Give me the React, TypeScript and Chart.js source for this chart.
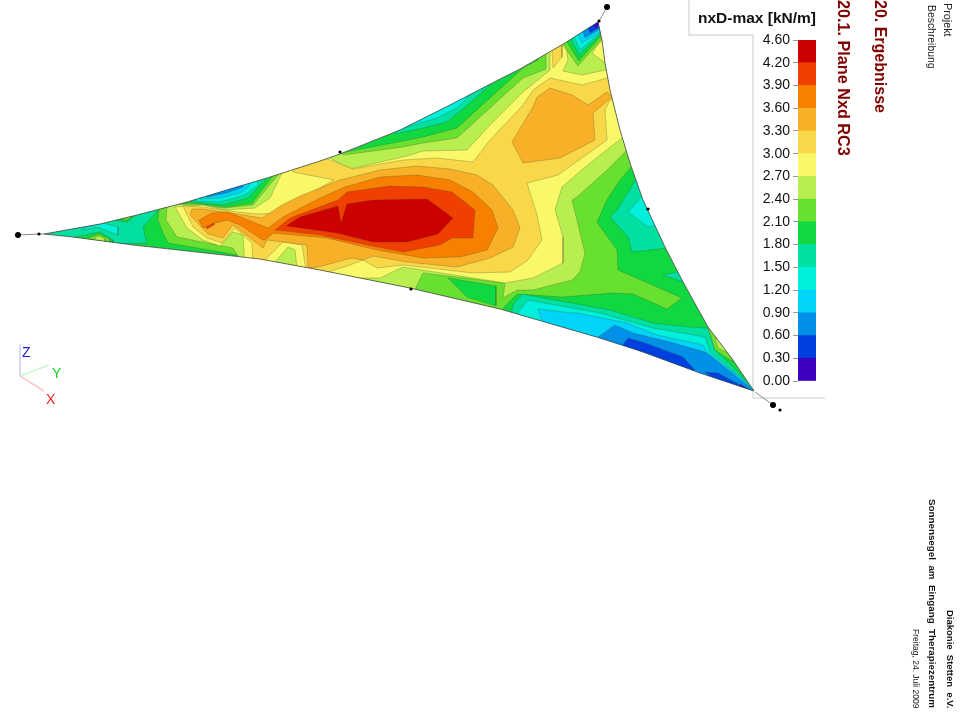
import React, { useEffect, useRef } from "react";
import { Chart } from "chart.js";
import { registerables } from "chart.js";

type P = number[];

const bandColors = ["#3c00c0", "#0040e0", "#0090e8", "#00d4f8", "#00f0dc", "#00e0a0", "#10d840", "#68e030", "#b8ee50", "#f8f868", "#f8d848", "#f8b028", "#f88000", "#f04000", "#cc0000"];
const legendLabels = ["0.00", "0.30", "0.60", "0.90", "1.20", "1.50", "1.80", "2.10", "2.40", "2.70", "3.00", "3.30", "3.60", "3.90", "4.20", "4.60"];

const upperEdge: P[] = [[44, 234], [100, 224], [133, 216], [187, 202], [230, 189], [267, 178], [320, 161], [340, 154], [400, 130], [450, 105], [500, 79], [520, 69], [565, 43], [598, 22]];
const rightEdge: P[] = [[602, 40], [605, 63], [610, 90], [620, 130], [630, 163], [643, 200], [665, 247], [682, 280], [708, 327], [733, 360], [754, 391]];
const lowerEdge: P[] = [[700, 373], [643, 352], [600, 338], [500, 309], [410, 288], [320, 270], [260, 259], [233, 256], [133, 245], [73, 237], [44, 234]];

const p21: P[] = [[168, 206], [190, 203], [227, 207], [252, 203], [272, 177], [273, 165], [335, 145], [340, 153], [393, 143], [423, 137], [457, 128], [490, 98], [523, 68], [538, 60], [545, 40], [600, 10], [640, 100], [645, 160], [633, 165], [620, 180], [607, 200], [597, 222], [617, 250], [618, 270], [682, 298], [667, 309], [633, 294], [613, 293], [563, 297], [517, 294], [504, 307], [500, 325], [420, 300], [240, 270], [238, 255], [168, 243], [163, 233], [158, 220], [159, 209]];
const greenPit: P[] = [[448, 278], [496, 286], [496, 306], [467, 297]];
const p24: P[] = [[167, 207], [173, 204], [195, 205], [225, 208], [253, 205], [278, 175], [279, 160], [338, 145], [343, 155], [403, 147], [423, 143], [457, 138], [490, 108], [523, 78], [546, 69], [546, 45], [600, 10], [640, 100], [635, 145], [627, 150], [607, 170], [577, 197], [572, 200], [585, 253], [580, 272], [572, 280], [533, 290], [517, 290], [503, 298], [505, 283], [423, 273], [417, 285], [412, 300], [240, 270], [238, 256], [233, 248], [217, 245], [177, 237], [166, 220]];
const p27: P[] = [[175, 207], [203, 205], [225, 210], [255, 208], [270, 198], [280, 177], [283, 170], [282, 160], [328, 148], [330, 158], [350, 169], [407, 156], [423, 151], [467, 150], [490, 125], [523, 92], [550, 70], [550, 50], [565, 40], [568, 60], [563, 71], [582, 75], [605, 70], [625, 80], [630, 130], [622, 138], [590, 163], [562, 187], [555, 210], [563, 237], [563, 263], [533, 278], [505, 283], [403, 267], [380, 278], [345, 278], [345, 290], [245, 270], [243, 235], [233, 232], [220, 246], [203, 240], [187, 228]];
const p30: P[] = [[183, 206], [203, 207], [237, 212], [258, 214], [275, 213], [334, 180], [293, 172], [293, 160], [325, 148], [325, 158], [353, 169], [403, 160], [437, 158], [473, 162], [490, 140], [523, 105], [533, 90], [550, 78], [582, 85], [607, 78], [620, 85], [625, 100], [610, 100], [605, 110], [607, 140], [558, 175], [527, 183], [537, 215], [542, 240], [528, 260], [510, 272], [473, 273], [403, 265], [377, 268], [363, 260], [350, 265], [328, 272], [325, 285], [253, 270], [252, 243], [235, 228], [222, 243], [207, 238], [193, 227]];
const pitYellow: P[] = [[263, 262], [283, 242], [302, 245], [306, 270]];
const pitLime: P[] = [[275, 262], [288, 247], [295, 250], [297, 268]];
const p30Top: P[] = [[552, 50], [562, 44], [562, 57], [553, 68]];
const yellowCorner: P[] = [[592, 53], [600, 42], [610, 40], [610, 65], [605, 63]];
const p33Blob: P[] = [[550, 88], [572, 95], [588, 105], [607, 92], [612, 97], [593, 113], [595, 140], [560, 158], [523, 163], [512, 142], [533, 107], [537, 97]];
const p33: P[] = [[192, 209], [203, 209], [237, 214], [262, 218], [282, 205], [300, 196], [340, 180], [380, 170], [417, 166], [450, 169], [477, 175], [493, 185], [513, 210], [520, 228], [513, 247], [490, 258], [457, 267], [407, 262], [373, 256], [363, 260], [352, 258], [318, 267], [308, 268], [307, 245], [267, 240], [263, 248], [233, 225], [223, 238], [208, 234], [190, 215]];
const p36: P[] = [[199, 220], [212, 213], [228, 212], [268, 228], [283, 217], [320, 198], [345, 187], [380, 177], [417, 175], [450, 180], [473, 192], [492, 210], [498, 228], [487, 250], [460, 257], [423, 258], [377, 250], [327, 238], [273, 233], [265, 240], [263, 240], [240, 225], [227, 220], [215, 223], [203, 228]];
const p39Sliver: P[] = [[206, 227], [214, 223], [214, 225], [207, 229]];
const p39: P[] = [[275, 230], [290, 218], [338, 200], [347, 192], [390, 186], [423, 187], [452, 192], [475, 210], [473, 238], [452, 238], [440, 245], [403, 252], [367, 245], [320, 235]];
const p42: P[] = [[286, 226], [300, 217], [338, 206], [341, 223], [347, 204], [373, 200], [427, 199], [453, 218], [438, 234], [407, 242], [373, 242], [337, 233]];

const tipTeal: P[] = [[160, 208], [143, 227], [147, 243], [60, 245], [30, 234], [60, 220], [150, 200]];
const tipCyan: P[] = [[83, 228], [103, 223], [118, 227], [118, 235], [97, 227], [83, 230]];
const tipGreen: P[] = [[75, 237], [100, 232], [113, 240], [113, 250], [75, 245]];
const tipMid: P[] = [[88, 238], [98, 234], [110, 239], [110, 248], [88, 246]];
const tipLime: P[] = [[95, 237], [100, 236], [105, 239], [105, 246], [95, 246]];
const tipTopGreen: P[] = [[113, 220], [127, 222], [135, 216], [135, 205], [113, 210]];
const tipTopMid: P[] = [[120, 219], [127, 220], [132, 217], [132, 208], [120, 210]];

const upLeftTeal: P[] = [[192, 202], [223, 205], [248, 198], [265, 180], [265, 165], [195, 185]];
const upLeftTurq: P[] = [[195, 201], [220, 202], [245, 195], [258, 185], [255, 165], [195, 185]];
const upLeftCyan: P[] = [[200, 199], [220, 198], [242, 192], [250, 185], [245, 170], [200, 185]];
const upLeftBlue: P[] = [[207, 197], [227, 193], [243, 187], [243, 175], [207, 190]];

const upTeal: P[] = [[395, 134], [423, 128], [447, 122], [470, 103], [490, 85], [490, 70], [400, 110]];
const upTurq: P[] = [[403, 128], [437, 118], [457, 108], [472, 93], [470, 80], [410, 110]];

const vMid: P[] = [[563, 45], [578, 66], [601, 40], [600, 10], [560, 30]];
const vGreen: P[] = [[567, 42], [579, 61], [600, 37], [600, 10], [560, 30]];
const vTeal: P[] = [[571, 39], [579, 55], [600, 35], [600, 10], [565, 28]];
const vTurq: P[] = [[574, 37], [580, 50], [600, 33], [600, 10], [568, 26]];
const vCyan: P[] = [[578, 35], [582, 43], [600, 32], [600, 10], [572, 24]];
const vBlue: P[] = [[583, 32], [585, 38], [600, 29], [600, 10], [576, 22]];
const vDark: P[] = [[588, 28], [590, 33], [600, 27], [600, 10], [580, 20]];
const vViolet: P[] = [[593, 25], [596, 28], [600, 24], [600, 10], [585, 18]];

const rightTeal: P[] = [[637, 178], [617, 210], [610, 217], [628, 237], [632, 252], [668, 248], [680, 230], [650, 170]];
const rightTurq: P[] = [[643, 195], [628, 212], [648, 227], [660, 225], [650, 190]];
const rightTealSmall: P[] = [[663, 275], [677, 272], [690, 275], [683, 282]];

const lowTeal: P[] = [[513, 305], [522, 294], [610, 310], [653, 323], [690, 327], [708, 328], [715, 350], [733, 367], [760, 396], [700, 395], [520, 335], [510, 320]];
const lowTurq: P[] = [[518, 312], [528, 300], [600, 313], [653, 328], [705, 337], [710, 352], [725, 364], [760, 396], [700, 395], [530, 335]];
const lowCyan: P[] = [[538, 309], [572, 313], [577, 313], [627, 323], [657, 335], [703, 345], [707, 352], [740, 377], [760, 396], [700, 395], [600, 355], [545, 330]];
const lowBlue: P[] = [[598, 337], [615, 325], [633, 333], [670, 342], [705, 352], [712, 357], [747, 385], [760, 396], [700, 395], [600, 345]];
const lowDark: P[] = [[622, 346], [628, 338], [645, 343], [683, 357], [695, 370], [680, 380], [625, 355]];
const lowDarkTip: P[] = [[705, 372], [718, 373], [760, 396], [720, 385]];
const lowViolet: P[] = [[740, 384], [760, 396], [740, 392]];
const sliverMid: P[] = [[708, 328], [715, 350], [733, 362], [720, 330]];
const sliverLime: P[] = [[715, 338], [718, 348], [728, 353], [722, 340]];

const panelLine: P[] = [[689, 0], [689, 35], [753, 35], [753, 398], [825, 398]];
const axisZ: P[] = [[20, 376], [20, 344]];
const axisY: P[] = [[20, 376], [49, 365]];
const axisX: P[] = [[20, 376], [44, 391]];
const anchorLeft: P[] = [[18, 235], [39, 234], [44, 234]];
const anchorTop: P[] = [[607, 7], [599, 21]];
const anchorBottom: P[] = [[755, 392], [773, 405]];
const bigMarks: P[] = [[18, 235], [607, 7], [773, 405]];
const smallMarks: P[] = [[39, 234], [340, 152], [648, 209], [411, 289], [599, 21], [780, 410]];

const paintOrder: [P[], number][] = [
  [p21, 7], [greenPit, 6], [p24, 8], [p27, 9], [p30, 10], [pitYellow, 9], [pitLime, 8], [p30Top, 10], [yellowCorner, 9],
  [p33Blob, 11], [p33, 11], [p36, 12], [p39Sliver, 13], [p39, 13], [p42, 14],
  [tipTeal, 5], [tipCyan, 4], [tipGreen, 6], [tipMid, 7], [tipLime, 8], [tipTopGreen, 6], [tipTopMid, 7],
  [upLeftTeal, 5], [upLeftTurq, 4], [upLeftCyan, 3], [upLeftBlue, 2],
  [upTeal, 5], [upTurq, 4],
  [vMid, 7], [vGreen, 6], [vTeal, 5], [vTurq, 4], [vCyan, 3], [vBlue, 2], [vDark, 1], [vViolet, 0],
  [rightTeal, 5], [rightTurq, 4], [rightTealSmall, 5],
  [lowTeal, 5], [lowTurq, 4], [lowCyan, 3], [lowBlue, 2], [lowDark, 1], [lowDarkTip, 1], [lowViolet, 0],
  [sliverMid, 7], [sliverLime, 8],
];

const shell: P[] = [...upperEdge, ...rightEdge, ...lowerEdge];

const shellClip = {
  id: "shellClip",
  beforeDatasetDraw(chart: any, args: any) {
    if (!chart.data.datasets[args.index].clipToShell) return;
    const { ctx, scales } = chart;
    ctx.save();
    ctx.beginPath();
    shell.forEach((p, i) => {
      const x = scales.x.getPixelForValue(p[0]);
      const y = scales.y.getPixelForValue(p[1]);
      if (i === 0) ctx.moveTo(x, y);
      else ctx.lineTo(x, y);
    });
    ctx.closePath();
    ctx.clip();
  },
  afterDatasetDraw(chart: any, args: any) {
    if (chart.data.datasets[args.index].clipToShell) chart.ctx.restore();
  },
};

Chart.register(shellClip);
Chart.register(...registerables);

const xy = (pts: P[]) => pts.map((p) => ({ x: p[0], y: p[1] }));
const closed = (pts: P[]) => xy([...pts, pts[0]]);
const contourLine = "rgba(70,70,40,0.45)";
const sans = "'Liberation Sans', Arial, sans-serif";

const polyLine = (pts: P[], color: string, width: number) => ({
  data: xy(pts), showLine: true, fill: false, borderColor: color, borderWidth: width, pointRadius: 0,
});

const band = (pts: P[], idx: number) => ({
  data: closed(pts), showLine: true, fill: "shape", backgroundColor: bandColors[idx], borderColor: contourLine,
  borderWidth: 0.6, pointRadius: 0, clipToShell: true,
});

type Txt = { text: string; x: number; top?: number; bottom?: number; size: number; bold?: boolean; color?: string };
const rotatedTexts: Txt[] = [
  { text: "20. Ergebnisse", x: 871, top: 0, size: 16, bold: true, color: "#800000" },
  { text: "20.1. Plane Nxd RC3", x: 834, top: 0, size: 16.2, bold: true, color: "#800000" },
  { text: "Projekt", x: 942, top: 3, size: 10.8, color: "#222" },
  { text: "Beschreibung", x: 925, top: 5, size: 10.4, color: "#222" },
  { text: "Diakonie  Stetten  e.V.", x: 944, bottom: 12, size: 9.5, bold: true, color: "#111" },
  { text: "Sonnensegel  am  Eingang  Therapiezentrum", x: 927, bottom: 12, size: 9.8, bold: true, color: "#111" },
  { text: "Freitag, 24. Juli 2009", x: 910, bottom: 12, size: 8.5, color: "#222" },
];

export default function App() {
  const mapRef = useRef<HTMLCanvasElement>(null);
  const legendRef = useRef<HTMLCanvasElement>(null);

  useEffect(() => {
    // Chart.js paints the first dataset last, so this list is reversed before it is handed over.
    const layersBottomUp: any[] = [
      polyLine(panelLine, "#dcdcdc", 1.5),
      polyLine(axisZ, "#ccccff", 1.5),
      polyLine(axisY, "#ccf6cc", 1.5),
      polyLine(axisX, "#ffc8c8", 1.5),
      polyLine(anchorLeft, "#888888", 1),
      polyLine(anchorTop, "#888888", 1),
      polyLine(anchorBottom, "#888888", 1),
      band(shell, 6),
      ...paintOrder.map(([pts, idx]) => band(pts, idx)),
      polyLine([...shell, shell[0]], "#4a4a4a", 0.8),
      { data: xy(bigMarks), showLine: false, pointRadius: 3, pointBackgroundColor: "#000", pointBorderWidth: 0 },
      { data: xy(smallMarks), showLine: false, pointRadius: 1.6, pointBackgroundColor: "#000", pointBorderWidth: 0 },
    ];
    const map = new Chart(mapRef.current!, {
      type: "scatter",
      data: { datasets: [...layersBottomUp].reverse() },
      options: {
        animation: false,
        responsive: false,
        layout: { padding: 0, autoPadding: false },
        elements: { line: { tension: 0 } },
        plugins: { legend: { display: false }, tooltip: { enabled: false } },
        scales: {
          x: { type: "linear", min: 0, max: 960, display: false },
          y: { type: "linear", min: 0, max: 720, reverse: true, display: false },
        },
      },
    } as any);

    const legend = new Chart(legendRef.current!, {
      type: "bar",
      data: {
        labels: ["nxD-max"],
        datasets: bandColors.map((c) => ({ data: [1], backgroundColor: c, stack: "s", barPercentage: 1, categoryPercentage: 1 })),
      },
      options: {
        animation: false,
        responsive: false,
        layout: { padding: { top: 10, bottom: 9, right: 14, left: 0 } },
        plugins: { legend: { display: false }, tooltip: { enabled: false } },
        scales: {
          x: { display: false, stacked: true },
          y: {
            stacked: true,
            min: 0,
            max: 15,
            border: { display: false },
            grid: { drawOnChartArea: false, drawTicks: true, tickLength: 5, color: "#999" },
            ticks: {
              stepSize: 1,
              padding: 3,
              color: "#111",
              font: { family: "'Liberation Sans', Arial, sans-serif", size: 14 },
              autoSkip: false,
              callback: (v: any) => legendLabels[v],
            },
            afterFit: (s: any) => { s.width = 48; s.paddingTop = 0; s.paddingBottom = 0; },
          },
        },
      },
    } as any);

    return () => {
      map.destroy();
      legend.destroy();
    };
  }, []);

  return (
    <div style={{ position: "absolute", left: 0, top: 0, width: 960, height: 720, background: "#fff", overflow: "hidden", fontFamily: sans, filter: "blur(0.35px)" }}>
      <canvas ref={mapRef} width={960} height={720} style={{ position: "absolute", left: 0, top: 0, width: 960, height: 720 }} />
      <canvas ref={legendRef} width={80} height={360} style={{ position: "absolute", left: 750, top: 30, width: 80, height: 360 }} />
      <div style={{ position: "absolute", left: 698, top: 9, fontSize: 15.5, fontWeight: 700, color: "#111", whiteSpace: "pre" }}>nxD-max [kN/m]</div>
      {rotatedTexts.map((t) => (
        <div
          key={t.text}
          style={{
            position: "absolute",
            left: t.x,
            top: t.top,
            bottom: t.bottom,
            writingMode: "vertical-rl",
            fontSize: t.size,
            fontWeight: t.bold ? 700 : 400,
            color: t.color,
            whiteSpace: "pre",
            lineHeight: 1.15,
          }}
        >
          {t.text}
        </div>
      ))}
      <div style={{ position: "absolute", left: 22, top: 344, fontSize: 14, color: "#2020e0" }}>Z</div>
      <div style={{ position: "absolute", left: 52, top: 365, fontSize: 14, color: "#18d018" }}>Y</div>
      <div style={{ position: "absolute", left: 46, top: 391, fontSize: 14, color: "#f02020" }}>X</div>
    </div>
  );
}
